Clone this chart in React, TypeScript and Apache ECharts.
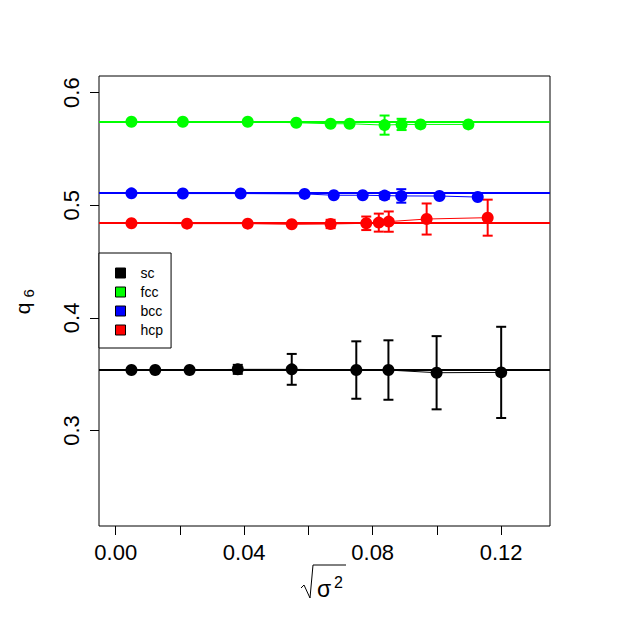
import React, { useEffect, useRef } from "react";
import * as echarts from "echarts";

const seriesNames = ["sc", "fcc", "bcc", "hcp"];
const seriesColors = ["#000000", "#00ff00", "#0000ff", "#ff0000"];

const scX = [0.0049, 0.0123, 0.023, 0.038, 0.0548, 0.0749, 0.0849, 0.0999, 0.12];
const scY = [0.3537, 0.3537, 0.3537, 0.3543, 0.3543, 0.3537, 0.3537, 0.3513, 0.3516];
const scErr = [0.001, 0.001, 0.001, 0.004, 0.0137, 0.0255, 0.0264, 0.0325, 0.0405];

const fccX = [0.0049, 0.0209, 0.0411, 0.0562, 0.0669, 0.0728, 0.0837, 0.089, 0.0949, 0.1098];
const fccY = [0.5742, 0.5742, 0.5742, 0.5733, 0.5724, 0.5724, 0.5712, 0.5718, 0.5718, 0.5718];
const fccErr = [0.001, 0.001, 0.001, 0.001, 0.001, 0.001, 0.0085, 0.005, 0.001, 0.001];

const bccX = [0.0049, 0.0209, 0.0389, 0.0588, 0.0679, 0.0769, 0.0837, 0.0889, 0.1008, 0.1127];
const bccY = [0.5106, 0.5104, 0.5104, 0.5101, 0.5089, 0.5089, 0.5086, 0.5083, 0.5082, 0.5073];
const bccErr = [0.001, 0.001, 0.001, 0.001, 0.001, 0.001, 0.003, 0.006, 0.001, 0.001];

const hcpX = [0.0049, 0.0222, 0.0411, 0.0548, 0.0669, 0.078, 0.0819, 0.085, 0.0968, 0.1158];
const hcpY = [0.484, 0.4837, 0.4837, 0.4831, 0.4834, 0.484, 0.4846, 0.4855, 0.4878, 0.489];
const hcpErr = [0.001, 0.001, 0.001, 0.001, 0.0037, 0.006, 0.008, 0.009, 0.0138, 0.016];

const refLines = [0.354, 0.5744, 0.5112, 0.4842];

const xTickValues = [0, 0.02, 0.04, 0.06, 0.08, 0.1, 0.12];
const xLabelValues = [0, 0.04, 0.08, 0.12];
const yTickValues = [0.3, 0.4, 0.5, 0.6];

const xRange = [-0.0052, 0.1352];
const yRange = [0.2152, 0.6148];

const FONT = "Liberation Sans, Arial, sans-serif";

export default function App() {
  const ref = useRef<HTMLDivElement>(null);
  useEffect(() => {
    if (!ref.current) return;
    const chart = echarts.init(ref.current, null, { renderer: "svg" });
    const groups = [
      [scX, scY, scErr],
      [fccX, fccY, fccErr],
      [bccX, bccY, bccErr],
      [hcpX, hcpY, hcpErr],
    ];
    const series: any[] = [];
    groups.forEach((g, i) => {
      const [xs, ys, es] = g;
      const color = seriesColors[i];
      series.push({
        name: seriesNames[i] + " error",
        type: "custom",
        z: 2,
        silent: true,
        data: xs.map((x, j) => [x, ys[j], es[j]]),
        encode: { x: 0, y: 1 },
        renderItem: (params: any, api: any) => {
          const x = api.value(0);
          const y = api.value(1);
          const e = api.value(2);
          const p1 = api.coord([x, y + e]);
          const p2 = api.coord([x, y - e]);
          const style = { stroke: color, lineWidth: 2 };
          return {
            type: "group",
            children: [
              { type: "line", shape: { x1: p1[0], y1: p1[1], x2: p2[0], y2: p2[1] }, style },
              { type: "line", shape: { x1: p1[0] - 5, y1: p1[1], x2: p1[0] + 5, y2: p1[1] }, style },
              { type: "line", shape: { x1: p2[0] - 5, y1: p2[1], x2: p2[0] + 5, y2: p2[1] }, style },
            ],
          };
        },
      });
      series.push({
        name: seriesNames[i],
        type: "line",
        z: 3,
        data: xs.map((x, j) => [x, ys[j]]),
        symbol: "circle",
        symbolSize: 12,
        showSymbol: true,
        itemStyle: { color },
        lineStyle: { color, width: 1 },
        emphasis: { disabled: true },
        markLine: {
          silent: true,
          precision: 6,
          symbol: ["none", "none"],
          label: { show: false },
          lineStyle: { color, width: 2, type: "solid" },
          data: [{ yAxis: refLines[i] }],
        },
      });
    });

    chart.setOption({
      animation: false,
      backgroundColor: "#ffffff",
      textStyle: { fontFamily: FONT },
      grid: {
        left: 99,
        top: 76,
        width: 451,
        height: 450,
        show: true,
        borderColor: "#000",
        borderWidth: 1,
        backgroundColor: "transparent",
      },
      xAxis: {
        type: "value",
        min: xRange[0],
        max: xRange[1],
        axisLine: { show: false, onZero: false },
        splitLine: { show: false },
        axisTick: {
          show: true,
          inside: false,
          length: 9,
          lineStyle: { color: "#000", width: 1 },
          customValues: xTickValues,
        },
        axisLabel: {
          customValues: xLabelValues,
          formatter: (v: number) => v.toFixed(2),
          fontSize: 22,
          color: "#000",
          margin: 15,
          fontFamily: FONT,
        },
      },
      yAxis: {
        type: "value",
        min: yRange[0],
        max: yRange[1],
        axisLine: { show: false, onZero: false },
        splitLine: { show: false },
        axisTick: {
          show: true,
          inside: false,
          length: 9,
          lineStyle: { color: "#000", width: 1 },
          customValues: yTickValues,
        },
        axisLabel: {
          customValues: yTickValues,
          formatter: (v: number) => v.toFixed(1),
          fontSize: 22,
          color: "#000",
          rotate: 90,
          margin: 17,
          fontFamily: FONT,
        },
      },
      legend: {
        data: seriesNames,
        orient: "vertical",
        left: 99,
        top: 253,
        backgroundColor: "#fff",
        borderColor: "#000",
        borderWidth: 1,
        borderRadius: 0,
        padding: [13, 8, 11, 16],
        itemWidth: 10,
        itemHeight: 10,
        itemGap: 5,
        icon: "rect",
        itemStyle: { borderColor: "#000", borderWidth: 1 },
        textStyle: { fontSize: 14, color: "#000", padding: [0, 0, 0, 10], fontFamily: FONT },
        selectedMode: false,
      },
      graphic: [
        {
          type: "text",
          x: 22.7,
          y: 308.3,
          rotation: Math.PI / 2,
          style: { text: "q", fontSize: 21, fontFamily: FONT, fill: "#000", align: "center", verticalAlign: "middle" },
        },
        {
          type: "text",
          x: 28,
          y: 293.3,
          rotation: Math.PI / 2,
          style: { text: "6", fontSize: 15, fontFamily: FONT, fill: "#000", align: "center", verticalAlign: "middle" },
        },
        {
          type: "polyline",
          shape: { points: [[301, 588], [304, 585], [310, 598], [313, 565], [346, 565]] },
          style: { stroke: "#000", lineWidth: 1, fill: "none" },
        },
        {
          type: "text",
          x: 317,
          y: 600,
          style: { text: "σ", fontSize: 23, fontFamily: FONT, fill: "#000", align: "left", verticalAlign: "bottom" },
        },
        {
          type: "text",
          x: 334,
          y: 590,
          style: { text: "2", fontSize: 16, fontFamily: FONT, fill: "#000", align: "left", verticalAlign: "bottom" },
        },
      ],
      series,
    });
    return () => chart.dispose();
  }, []);
  return <div ref={ref} style={{ position: "absolute", left: 0, top: 0, width: 627, height: 626 }} />;
}
